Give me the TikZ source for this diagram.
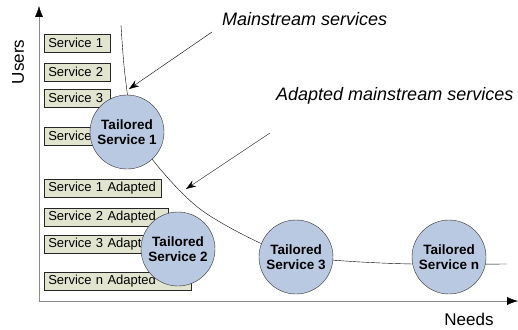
\documentclass[tikz,border=0pt]{standalone}
\usepackage{fontspec}
\setmainfont{Liberation Sans}
\usetikzlibrary{arrows.meta, positioning}

\definecolor{svcfill}{HTML}{E1E4CE}
\definecolor{tailfill}{HTML}{B9C9E1}
\definecolor{axisgray}{HTML}{8A8A8A}

\begin{document}
\begin{tikzpicture}[
  x=1pt, y=-1pt,
  svc/.style={draw=black!85, line width=0.6pt, fill=svcfill, anchor=west,
              minimum height=18pt, inner xsep=4pt, inner ysep=0pt,
              align=left, font=\fontsize{13}{14}\selectfont},
  tail/.style={circle, draw=black!80, fill=tailfill, minimum size=74pt,
               inner sep=0pt, align=center,
               font=\fontsize{13.5}{15.5}\selectfont\bfseries},
  arr/.style={-{Stealth[length=10pt,width=7pt]}, thin},
  axis/.style={draw=axisgray, -{Latex[length=11pt,width=8pt,color=black]}},
  note/.style={anchor=west, inner sep=0pt, font=\fontsize{18}{20}\selectfont\itshape}
]
  \useasboundingbox (0,0) rectangle (518,329);

  % axes
  \coordinate (o)    at (39,301);
  \coordinate (ytop) at (39,6);
  \coordinate (xend) at (518,301);
  \draw[axis] (o) -- (ytop);
  \draw[axis] (o) -- (xend);
  \node[rotate=90, font=\fontsize{17}{19}\selectfont] (users) at (18,62) {Users};
  \node[font=\fontsize{17}{19}\selectfont] (needs) at (469,319) {Needs};

  % mainstream services
  \node[svc, text width=58pt] (s1) at (44,43)  {Service 1};
  \node[svc, text width=58pt] (s2) at (44,72)  {Service 2};
  \node[svc, text width=58pt] (s3) at (44,98)  {Service 3};
  \node[svc, text width=58pt] (sn) at (44,136) {Service n};

  % adapted services
  \node[svc, text width=109pt] (a1) at (44,188) {Service 1 Adapted};
  \node[svc, text width=116pt] (a2) at (44,217) {Service 2 Adapted};
  \node[svc, text width=116pt] (a3) at (44,244) {Service 3 Adapted};
  \node[svc, text width=139pt] (an) at (44,281) {Service n Adapted};

  % demand curve
  \draw[thin] plot[smooth, tension=0.55] coordinates {
    (121,25) (125,75) (134,128) (156,164) (200,209) (260,243)
    (300,256) (345,261) (413,264) (507,264)};

  % tailored services
  \node[tail] (t1) at (127,132) {Tailored\\Service 1};
  \node[tail] (t2) at (178,249) {Tailored\\Service 2};
  \node[tail] (t3) at (296,257) {Tailored\\Service 3};
  \node[tail] (tn) at (449,257) {Tailored\\Service n};

  % labels
  \node[note] (main) at (222,19) {Mainstream services};
  \node[note] (adap) at (276,96) {Adapted mainstream services};
  \coordinate (mainhit) at (129,89);
  \coordinate (adaphit) at (186,189);
  \draw[arr] (212,32) -- (mainhit);
  \draw[arr] (270,133) -- (adaphit);
\end{tikzpicture}
\end{document}
